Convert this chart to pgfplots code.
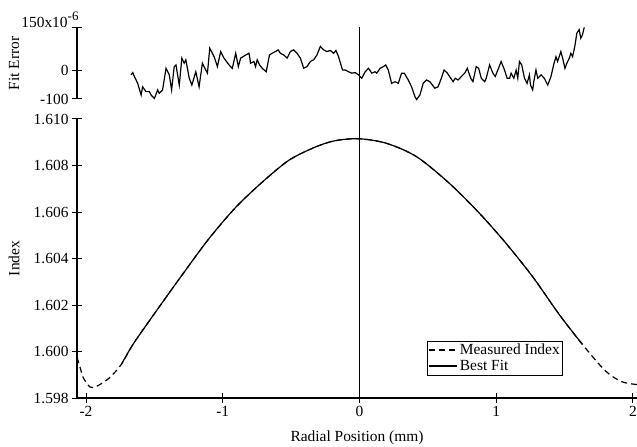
\documentclass[border=0pt]{standalone}
\usepackage{fontspec}
\setmainfont{Liberation Serif}
\usepackage{pgfplots}
\pgfplotsset{compat=1.18}
\usetikzlibrary{calc}

% fit residual, units of 1e-6
\pgfplotstableread{
x err
-1.670 -15
-1.658 -7
-1.646 -21
-1.622 -45
-1.597 -86
-1.586 -57
-1.561 -74
-1.537 -74
-1.524 -86
-1.500 -98
-1.476 -68
-1.464 -80
-1.440 -68
-1.415 8
-1.391 -15
-1.374 -68
-1.355 14
-1.342 20
-1.318 -51
-1.299 44
-1.282 26
-1.270 38
-1.245 -27
-1.226 -51
-1.197 -4
-1.173 -57
-1.149 26
-1.124 2
-1.112 -9
-1.095 79
-1.063 49
-1.039 14
-1.015 67
-0.991 44
-0.954 20
-0.930 8
-0.905 61
-0.886 14
-0.869 44
-0.832 55
-0.808 61
-0.796 26
-0.772 32
-0.760 14
-0.748 38
-0.731 20
-0.711 8
-0.682 -4
-0.658 55
-0.639 61
-0.614 67
-0.595 73
-0.578 61
-0.554 55
-0.529 44
-0.505 67
-0.481 73
-0.457 61
-0.432 44
-0.408 8
-0.384 14
-0.359 32
-0.335 38
-0.311 55
-0.286 85
-0.262 73
-0.238 67
-0.213 71
-0.189 61
-0.172 71
-0.153 49
-0.124 2
-0.104 2
-0.080 -4
-0.056 -9
-0.031 -7
-0.007 -15
0.017 -27
0.042 -4
0.066 8
0.090 -9
0.114 -4
0.126 -9
0.151 8
0.175 14
0.192 20
0.211 2
0.235 -45
0.260 -39
0.284 -45
0.308 -9
0.328 -9
0.357 -33
0.381 -57
0.406 -92
0.418 -102
0.442 -86
0.466 -45
0.490 -33
0.515 -39
0.551 -62
0.575 -57
0.599 -27
0.619 2
0.643 -9
0.668 -27
0.685 -39
0.701 -27
0.721 -33
0.745 -21
0.770 -9
0.789 8
0.814 -27
0.830 -39
0.854 14
0.872 8
0.891 -27
0.916 -39
0.927 -27
0.952 20
0.976 -9
0.993 -21
1.012 2
1.036 32
1.061 2
1.080 -27
1.098 -27
1.109 -9
1.129 -27
1.146 2
1.158 -27
1.170 32
1.187 20
1.207 -27
1.226 -45
1.243 -15
1.251 -51
1.267 -68
1.275 -39
1.291 2
1.304 -27
1.328 -15
1.352 -27
1.377 -51
1.401 -21
1.420 20
1.437 49
1.449 32
1.473 67
1.486 44
1.503 8
1.517 26
1.535 44
1.546 61
1.559 49
1.575 85
1.590 132
1.607 144
1.619 114
1.631 126
1.644 152
}\fiterr

\pgfplotstableread{
x n
-2.066 1.59975
-2.040 1.59925
-2.020 1.59887
-1.970 1.59847
-1.920 1.59851
-1.830 1.59886
-1.740 1.59946
-1.655 1.60032
-1.485 1.60175
-1.290 1.60335
-1.100 1.60486
-0.905 1.60620
-0.710 1.60729
-0.515 1.60823
-0.320 1.60880
-0.175 1.60907
0.000 1.60915
0.200 1.60895
0.420 1.60837
0.660 1.60722
0.880 1.60593
1.075 1.60463
1.270 1.60319
1.460 1.60160
1.630 1.60031
1.800 1.59916
1.920 1.59870
2.030 1.59858
}\measured

\pgfplotstableread{
x n
-1.740 1.59946
-1.655 1.60032
-1.485 1.60175
-1.290 1.60335
-1.100 1.60486
-0.905 1.60620
-0.710 1.60729
-0.515 1.60823
-0.320 1.60880
-0.175 1.60907
0.000 1.60915
0.200 1.60895
0.420 1.60837
0.660 1.60722
0.880 1.60593
1.075 1.60463
1.270 1.60319
1.460 1.60160
1.630 1.60031
}\bestfit

\begin{document}
\begin{tikzpicture}
\pgfplotsset{
  every axis/.append style={
    font=\fontsize{15.5}{17}\selectfont,
    scale only axis, width=560bp,
    xmin=-2.066, xmax=2.03,
    tick align=outside, major tick length=10bp,
    every tick/.style={black, line width=1pt},
    /pgf/number format/assume math mode=true,
  },
}
\begin{axis}[
  name=main,
  height=279bp,
  ymin=1.598, ymax=1.610,
  axis x line=bottom, axis y line=left,
  axis line style={-, line width=1.1pt},
  every outer x axis line/.append style={-},
  every outer y axis line/.append style={-},
  xtick={-2,-1,0,1,2},
  ytick={1.598,1.600,1.602,1.604,1.606,1.608,1.610},
  scaled y ticks=false,
  yticklabel style={/pgf/number format/.cd, fixed, fixed zerofill, precision=3},
  xlabel={Radial Position (mm)},
  xlabel style={at={(axis description cs:0.5,-0.143)}, anchor=center},
  ylabel={Index},
  ylabel style={at={(axis description cs:-0.1125,0.5)}, anchor=center},
  legend style={draw=black, line width=0.6pt, at={(axis description cs:0.868,0.082)},
    anchor=south east, font=\fontsize{15.5}{16}\selectfont, inner sep=1pt},
  legend cell align=left,
  legend image code/.code={\draw[#1] (0bp,0bp) -- (28bp,0bp);},
]
\addplot[black, line width=1.2pt, smooth, dash pattern=on 6bp off 4bp] table[x=x, y=n] {\measured};
\addlegendentry{Measured Index}
\addplot[black, line width=1.2pt, smooth] table[x=x, y=n] {\bestfit};
\addlegendentry{Best Fit}
\coordinate (b) at (axis cs:0,1.598);
\end{axis}

\begin{axis}[
  at={($(main.north west)+(0,20bp)$)}, anchor=south west,
  height=71bp,
  ymin=-100, ymax=150,
  axis x line=none, axis y line=left,
  axis line style={-, line width=1.1pt},
  every outer y axis line/.append style={-},
  ytick={-100,0,150},
  yticklabels={-100,0,{\smash{150x10\raisebox{0.5em}{\fontsize{13}{13}\selectfont -6}}\hspace*{-10bp}}},
  ylabel={Fit Error},
  ylabel style={at={(axis description cs:-0.1125,0.5)}, anchor=center},
  clip=false,
]
\addplot[black, line width=1.2pt] table[x=x, y=err] {\fiterr};
\coordinate (t) at (axis cs:0,152);
\end{axis}
\draw[black, line width=0.9pt] (b) -- (t);
\pgfresetboundingbox
\path[use as bounding box] ($(main.south west)+(-77bp,-49bp)$) rectangle ($(main.south west)+(560bp,398bp)$);
\end{tikzpicture}
\end{document}
